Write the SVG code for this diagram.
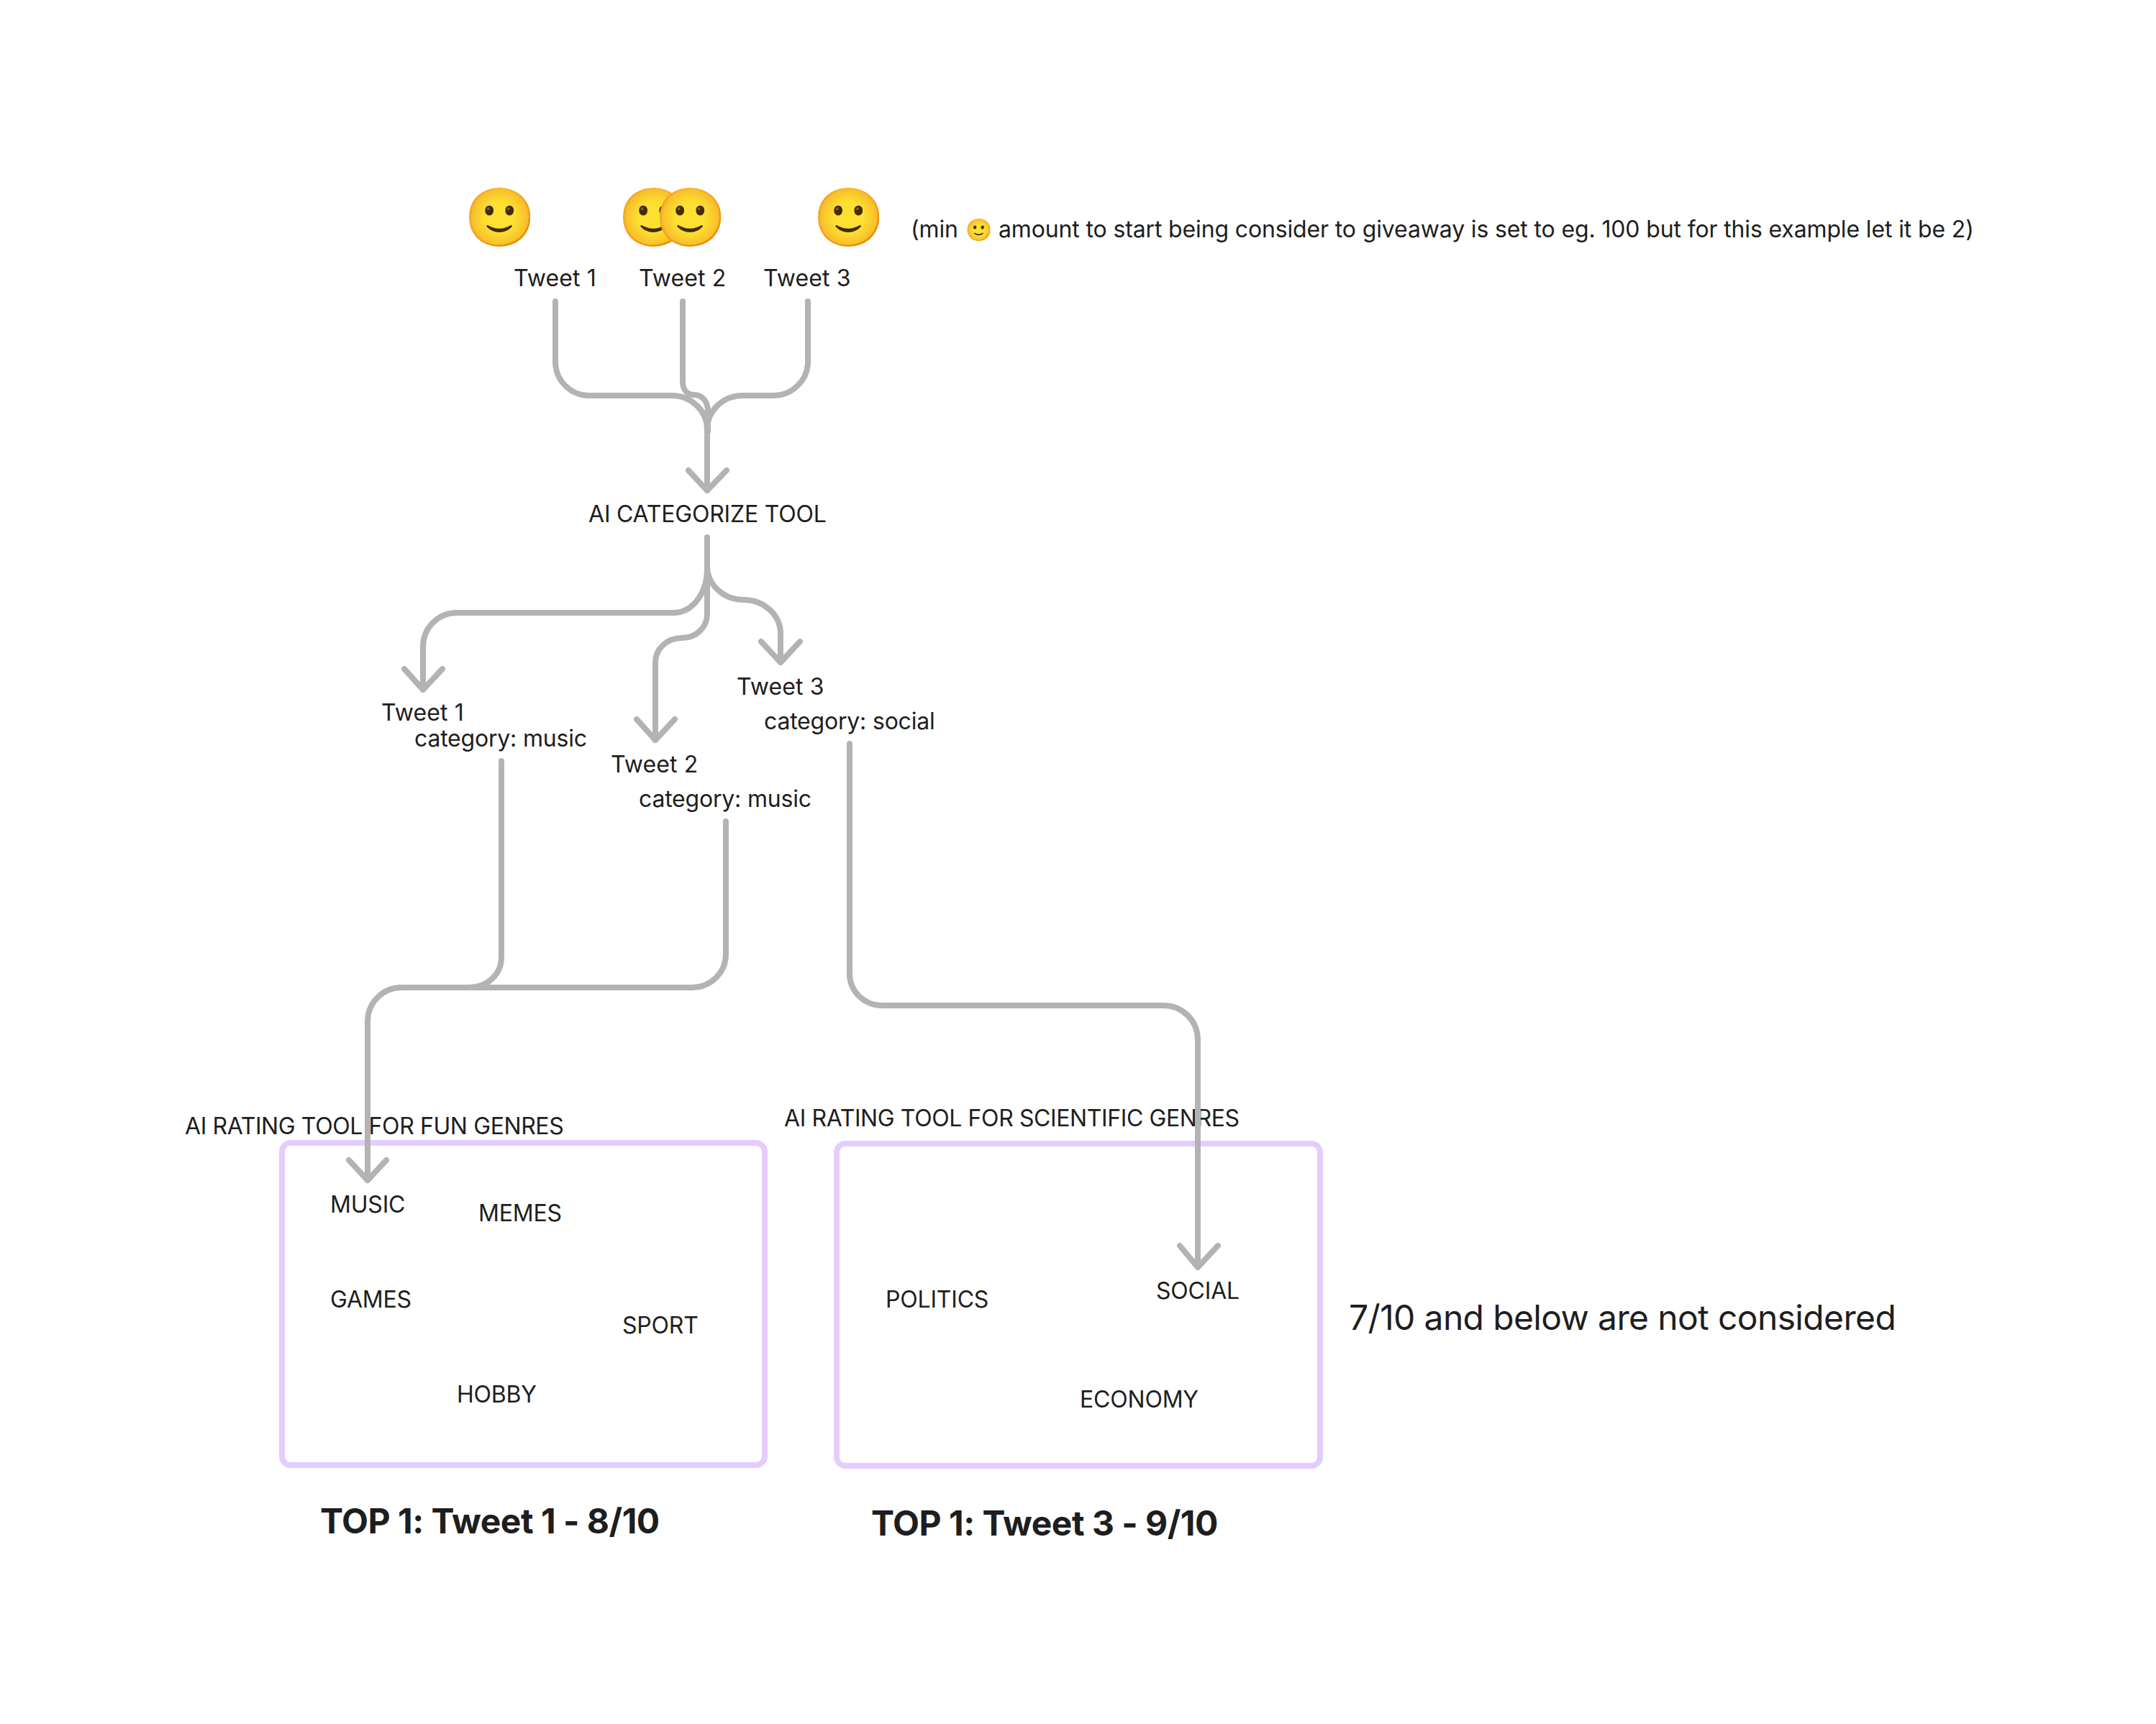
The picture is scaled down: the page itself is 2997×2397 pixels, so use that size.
<svg xmlns="http://www.w3.org/2000/svg" width="2997" height="2397" viewBox="0 0 2997 2397">
<style>
text{font-family:Inter,"Noto Sans",sans-serif;font-size:32px;fill:#1e1e1e;letter-spacing:-0.2px}
.tight{letter-spacing:-0.4px}
.tw{letter-spacing:0.1px}
.big{font-size:48px;letter-spacing:-0.64px}
.bold{font-size:48px;font-weight:700;letter-spacing:-0.5px}
.emoji{font-family:"Noto Color Emoji",sans-serif;font-size:80px;letter-spacing:0}
.note{letter-spacing:-0.14px}
.c{fill:none;stroke:#b3b3b3;stroke-width:8;stroke-linecap:round;stroke-linejoin:round}
.box{fill:none;stroke:#e4ccff;stroke-width:8}
</style>
<rect width="2997" height="2397" fill="#fff"/>
<g id="emoji-1"><text class="emoji" x="645" y="330">🙂</text></g>
<g id="emoji-2"><text class="emoji" x="859" y="330">🙂</text></g>
<g id="emoji-3"><text class="emoji" x="910" y="330">🙂</text></g>
<g id="emoji-4"><text class="emoji" x="1130" y="330">🙂</text></g>
<g id="note"><text class="note" x="1266" y="330">(min<tspan x="1342" font-family="Noto Color Emoji" font-size="30">🙂</tspan><tspan x="1388">amount to start being consider to giveaway is set to eg. 100 but for this example let it be 2)</tspan></text></g>
<g id="tweet-1"><text class="tw" x="714" y="398">Tweet 1</text></g>
<g id="tweet-2"><text class="tw" x="888" y="398">Tweet 2</text></g>
<g id="tweet-3"><text class="tw" x="1061" y="398">Tweet 3</text></g>
<g id="categorize"><text x="818" y="726">AI CATEGORIZE TOOL</text></g>
<g id="cat-1"><text class="tw" x="530" y="1002">Tweet 1</text><text x="576" y="1038">category: music</text></g>
<g id="cat-2"><text class="tw" x="849" y="1074">Tweet 2</text><text x="888" y="1122">category: music</text></g>
<g id="cat-3"><text class="tw" x="1024" y="966">Tweet 3</text><text x="1062" y="1014">category: social</text></g>
<g id="fun-box"><rect class="box" x="392" y="1589" width="671" height="448" rx="12"/>
<text class="tight" x="257" y="1577">AI RATING TOOL FOR FUN GENRES</text>
<text x="459" y="1686">MUSIC</text><text x="665" y="1698">MEMES</text><text x="459" y="1818">GAMES</text><text x="865" y="1854">SPORT</text><text x="635" y="1950">HOBBY</text>
<text class="bold" x="445" y="2132">TOP 1: Tweet 1 - 8/10</text></g>
<g id="sci-box"><rect class="box" x="1163" y="1590" width="672" height="448" rx="12"/>
<text class="tight" x="1090" y="1566">AI RATING TOOL FOR SCIENTIFIC GENRES</text>
<text x="1231" y="1818">POLITICS</text><text x="1607" y="1806">SOCIAL</text><text x="1501" y="1957">ECONOMY</text>
<text class="bold" x="1211" y="2135">TOP 1: Tweet 3 - 9/10</text></g>
<g id="threshold"><text class="big" x="1875" y="1849">7/10 and below are not considered</text></g>
<g id="connectors">
<path class="c" d="M772 419V503C772 529 793 550 819 550H934C961 550 983 571 983 597V682M957 654L983 682L1010 654"/>
<path class="c" d="M949 419V530C949 542 955 549 965 549C976 549 984 558 984 572V600"/>
<path class="c" d="M1123 419V503C1123 529 1101 550 1075 550H1032C1005 550 983 571 983 597"/>
<path class="c" d="M983 747V790C983 826 962 852 936 852H635C609 852 588 873 588 899V959M562 930L588 959L615 930"/>
<path class="c" d="M983 790V854C983 872 968 887 948 887C927 887 911 902 911 921V1029M885 1000L911 1029L938 1000"/>
<path class="c" d="M983 787C983 813 1006 834 1034 834C1062 834 1085 855 1085 881V921M1058 892L1085 921L1112 892"/>
<path class="c" d="M697 1058V1331C697 1355 677 1373 652 1373H558C532 1373 511 1394 511 1420V1641M485 1613L511 1641L537 1613"/>
<path class="c" d="M1009 1142V1327C1009 1352 988 1373 962 1373H652"/>
<path class="c" d="M1181 1034V1354C1181 1378 1201 1398 1226 1398H1617C1644 1398 1665 1419 1665 1446V1762M1640 1732L1665 1762L1693 1732"/>
</g>
</svg>
